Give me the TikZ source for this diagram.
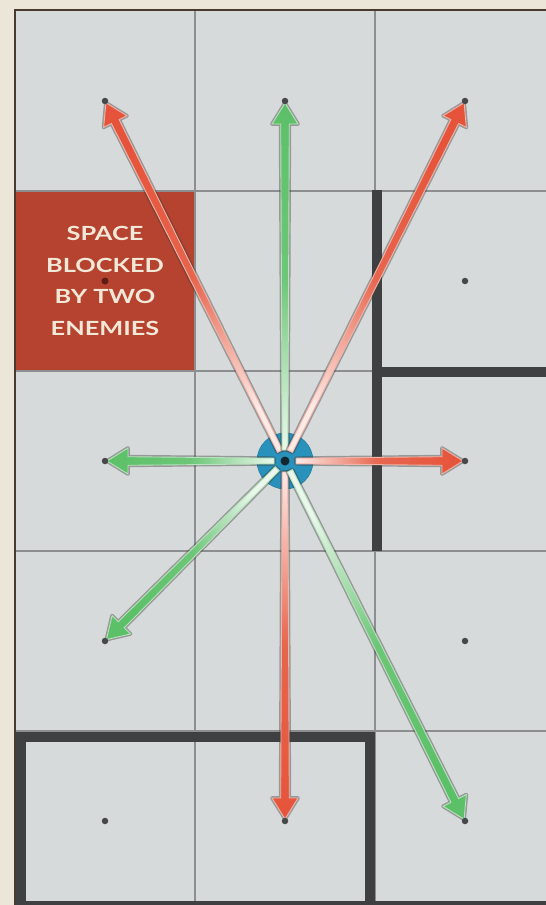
\documentclass[tikz,border=0pt]{standalone}
\usepackage{fontspec}
\usetikzlibrary{calc}
\newfontfamily\blkfont{Lato}[FakeStretch=1.3]
\definecolor{beige}{RGB}{236,230,216}
\definecolor{boardc}{RGB}{215,218,219}
\definecolor{gridc}{RGB}{140,142,143}
\definecolor{wallc}{RGB}{62,64,65}
\definecolor{blockred}{RGB}{181,67,47}
\definecolor{txtc}{RGB}{242,232,216}
\definecolor{arrred}{RGB}{229,84,58}
\definecolor{arrgreen}{RGB}{92,192,104}
\definecolor{tokblue}{RGB}{40,146,188}
\definecolor{dotc}{RGB}{70,72,74}
\definecolor{borderc}{RGB}{74,58,46}
\tikzset{
  gridline/.style={draw=gridc, line width=1.4pt},
  wall/.style={draw=wallc, line width=10pt},
  tdot/.style={circle, fill=dotc, minimum size=6.5pt, inner sep=0pt},
  arrshadow/.style={draw=black!75, draw opacity=.42, line width=3.8pt, line join=round},
}
\newcommand\arS{11pt}
\newcommand\arWs{2.8pt}
\newcommand\arW{4.3pt}
\newcommand\arH{13pt}
\newcommand\arE{2pt}
\newcommand\arB{23pt}
\newcommand\arrowpath[2]{($(#1.center)!\arS!(#2.center)!\arWs!90:(#2.center)$) -- ($(#2.center)!\arB!(#1.center)!\arW!-90:(#1.center)$) -- ($(#2.center)!\arB!(#1.center)!\arH!-90:(#1.center)$) -- ($(#2.center)!\arE!(#1.center)$) -- ($(#2.center)!\arB!(#1.center)!\arH!90:(#1.center)$) -- ($(#2.center)!\arB!(#1.center)!\arW!90:(#1.center)$) -- ($(#1.center)!\arS!(#2.center)!\arWs!-90:(#2.center)$) -- cycle}
\newcommand\mvarrow[4]{%
  \draw[arrshadow] \arrowpath{#1}{#2};
  \shadedraw[draw=white!55!#3, line width=0.9pt, line join=miter, bottom color=#3!12!white, top color=#3, middle color=#3!90!white, shading angle=#4] \arrowpath{#1}{#2};
}
\begin{document}
\begin{tikzpicture}[x=1pt,y=1pt]
\fill[beige] (0,0) rectangle (546,-905);
\useasboundingbox (0,0) rectangle (546,-905);
% board
\fill[boardc] (15,-10) rectangle (546,-905);
\fill[blockred] (16,-191) rectangle (195,-371);
% grid
\draw[gridline] (195,-10) -- (195,-905);
\draw[gridline] (375,-10) -- (375,-905);
\foreach \yy in {191,371,551,731} \draw[gridline] (15,-\yy) -- (546,-\yy);
% walls
\draw[wall] (376.5,-190) -- (376.5,-551);
\draw[wall] (376.5,-372) -- (546,-372);
\draw[wall, line join=miter] (21,-905) |- (370,-736.5) -- (370,-905);
\draw[draw=wallc, line width=5pt] (15,-903) -- (546,-903);
% border
\draw[borderc, line width=2pt] (546,-10) -- (15,-10) -- (15,-905);
% blocked space
\node[circle, fill={rgb,255:red,95;green,28;blue,22}, minimum size=7pt, inner sep=0pt] (bdot) at (105,-281) {};
\node[font=\blkfont\bfseries\fontsize{19.5}{31.5}\selectfont, text=txtc, align=center, inner sep=0pt] (lbl) at (105,-281) {SPACE\\BLOCKED\\BY TWO\\ENEMIES};
% token
\node[circle, fill=tokblue, draw=tokblue!85!black, line width=0.6pt, minimum size=56pt, inner sep=0pt] (c) at (285,-461) {};
% targets
\coordinate (t1) at (105,-101);
\coordinate (t2) at (285,-101);
\coordinate (t3) at (465,-101);
\coordinate (t4) at (105,-461);
\coordinate (t5) at (465,-461);
\coordinate (t6) at (105,-641);
\coordinate (t7) at (285,-821);
\coordinate (t8) at (465,-821);
% arrows
\mvarrow{c}{t1}{arrred}{26.57}
\mvarrow{c}{t2}{arrgreen}{0}
\mvarrow{c}{t3}{arrred}{-26.57}
\mvarrow{c}{t4}{arrgreen}{90}
\mvarrow{c}{t5}{arrred}{-90}
\mvarrow{c}{t6}{arrgreen}{135}
\mvarrow{c}{t7}{arrred}{180}
\mvarrow{c}{t8}{arrgreen}{206.57}
% dots
\node[tdot] (d1) at (t1) {};
\node[tdot] (d2) at (t2) {};
\node[tdot] (d3) at (t3) {};
\node[tdot] (d4) at (t4) {};
\node[tdot] (d5) at (t5) {};
\node[tdot] (d6) at (t6) {};
\node[tdot] (d7) at (t7) {};
\node[tdot] (d8) at (t8) {};
\node[tdot] (d9) at (465,-281) {};
\node[tdot] (d10) at (465,-641) {};
\node[tdot] (d11) at (105,-821) {};
\node[circle, fill={rgb,255:red,20;green,38;blue,48}, minimum size=9pt, inner sep=0pt] (cdot) at (c.center) {};
\end{tikzpicture}
\end{document}
